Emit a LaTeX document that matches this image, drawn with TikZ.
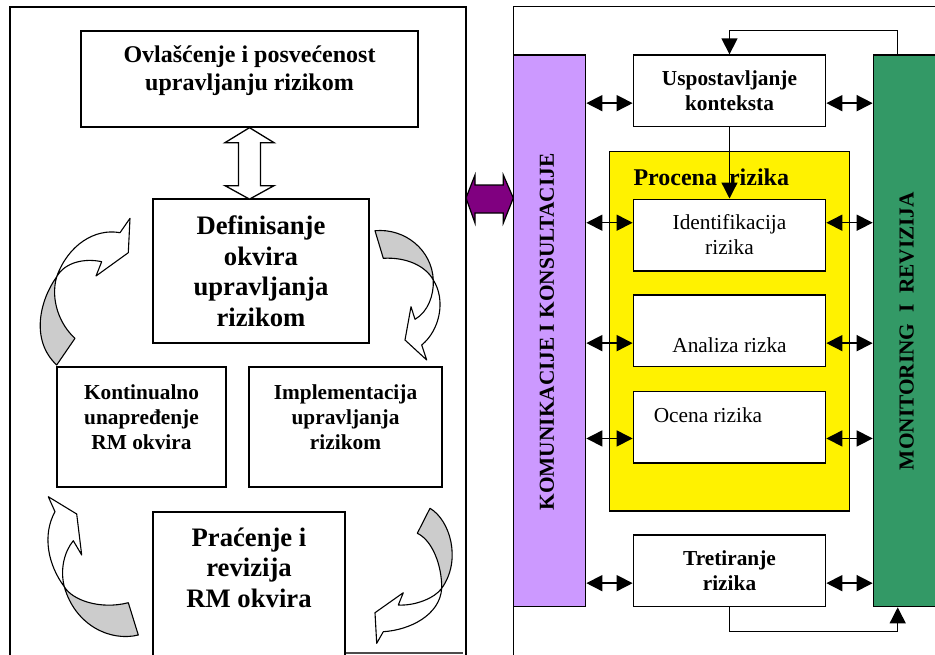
\documentclass[tikz,border=0pt]{standalone}
\usepackage{fontspec}
\setmainfont{Liberation Serif}
\usepackage{tikz}
\usetikzlibrary{arrows.meta, positioning, calc}

\definecolor{lavender}{HTML}{CC99FF}
\definecolor{seagreen}{HTML}{339966}
\definecolor{plum}{HTML}{800080}
\definecolor{ribbon}{HTML}{CCCCCC}

\newcommand{\szM}{\fontsize{21.33}{25}\selectfont}
\newcommand{\szL}{\fontsize{24}{28}\selectfont}
\newcommand{\szXL}{\fontsize{26.67}{30.5}\selectfont}

\begin{document}
\begin{tikzpicture}[x=1pt, y=-1pt,
        box/.style={draw, rectangle, line width=1.3pt, fill=white, inner sep=0pt},
        rbox/.style={box, minimum width=192.4pt, minimum height=71.7pt},
        bar/.style={draw, rectangle, line width=1.3pt, inner sep=0pt},
        frame/.style={line width=1.2pt},
        lbl/.style={align=center, font=\bfseries\szM},
        dbl/.style={line width=1.5pt, {Triangle[length=16pt, width=16pt]}-{Triangle[length=16pt, width=16pt]}},
        arr/.style={line width=1.3pt, -{Triangle[length=16pt, width=16pt]}},
        rib/.style={draw, line width=1.1pt, line join=round}]
        \useasboundingbox (0,0) rectangle (935,654);
        \clip (0,0) rectangle (935,654);
        \fill[white] (0,0) rectangle (935,654);

        % Left part: the RM framework cycle
        \draw[frame] (10,670) |- (466,7) -- (466,670);
        \node[box, minimum width=337pt, minimum height=96pt] (ovl) at (249.5,79) {};
        \node[lbl, font=\bfseries\szL] (ovl-t) at ($(ovl)+(0,-8)$) {Ovlašćenje i posvećenost\\upravljanju rizikom};
        \node[box, lbl, font=\bfseries\szXL, minimum width=216pt, minimum height=144pt] (def) at (261,271) {Definisanje\\okvira\\upravljanja\\rizikom};
        \node[box, minimum width=169pt, minimum height=120pt] (kont) at (141.5,427) {};
        \node[lbl] (kont-t) at ($(kont)+(0,-10)$) {Kontinualno\\unapređenje\\RM okvira};
        \node[box, minimum width=193pt, minimum height=120pt] (impl) at (345.5,427) {};
        \node[lbl] (impl-t) at ($(impl)+(0,-10)$) {Implementacija\\upravljanja\\rizikom};
        \node[box, minimum width=192pt, minimum height=188pt] (prac) at (249,606) {};
        \node[lbl, font=\bfseries\szXL] (prac-t) at ($(prac.north)+(0,56.5)$) {Praćenje i\\revizija\\RM okvira};
        \draw[line width=2pt, gray!60!black] (prac.north east |- 0,653) -- (463,653);

        % hollow double arrow
        \draw[box] (ovl.south) -- ++(24.5,15) -- ++(-13.5,0) -- ++(0,43) -- ++(13.5,0) -- ++(-24.5,13.5)
                -- ++(-24.5,-13.5) -- ++(13.5,0) -- ++(0,-43) -- ++(-13.5,0) -- cycle;

        % ribbon arrows
        \draw[rib, fill=ribbon] (56.7,276.7) .. controls (40,300) and (30,340) .. (56.7,365) -- (75,338.3)
                .. controls (60,325) and (50,300) .. (56.7,276.7) -- cycle;
        \draw[rib, fill=white] (56.7,276.7) .. controls (68,245) and (95,228) .. (120,232.7) -- (130,218.3)
                -- (128.3,252.7) -- (96,276) -- (101.7,261.7) .. controls (85,258) and (65,262) .. (56.7,276.7) -- cycle;
        \draw[rib, fill=ribbon] (375,230.7) .. controls (405,228) and (432,250) .. (433.3,280)
                .. controls (425,265) and (405,257) .. (383.3,258.3) -- cycle;
        \draw[rib, fill=white] (433.3,280) .. controls (446,300) and (440,330) .. (421.7,345) -- (426.7,360)
                -- (405,340) -- (411,306.7) -- (415,319.3) .. controls (428,312) and (434,295) .. (433.3,280) -- cycle;
        \draw[rib, fill=ribbon] (64.3,586.7) .. controls (72,600) and (100,610) .. (128.3,602.7) -- (138.3,635)
                .. controls (110,642) and (75,625) .. (64.3,586.7) -- cycle;
        \draw[rib, fill=white] (64.3,586.7) .. controls (48,565) and (42,535) .. (55,511.7) -- (48.3,496.7)
                -- (76.7,514) -- (81.7,555) -- (73.3,540.7) .. controls (64,552) and (60,570) .. (64.3,586.7) -- cycle;
        \draw[rib, fill=ribbon] (430,508.3) .. controls (450,520) and (462,560) .. (441.7,588.3)
                .. controls (442,565) and (432,540) .. (417.3,533.3) -- cycle;
        \draw[rib, fill=white] (441.7,588.3) .. controls (435,598) and (415,606) .. (398.3,605) -- (403.3,592.7)
                -- (375,612.7) -- (376.7,643.3) -- (383.3,631.7) .. controls (410,630) and (440,615) .. (441.7,588.3) -- cycle;

        % Right part: risk management process
        \draw[frame] (513.3,670) |- (945,6.7);
        \node[bar, fill=lavender, minimum width=72.4pt, minimum height=551.7pt] (kom) at (549.5,330.85) {};
        \node[rotate=90, font=\bfseries\szM] (kom-t) at (547,332) {KOMUNIKACIJE I KONSULTACIJE};
        \node[bar, fill=seagreen, minimum width=66.7pt, minimum height=551.7pt] (mon) at (906.7,330.85) {};
        \node[rotate=90, font=\bfseries\szM] (mon-t) at (906.7,331) {MONITORING\ \ I\ \ REVIZIJA};
        \node[bar, fill=yellow, minimum width=240pt, minimum height=359.3pt] (proc) at (729.3,331.35) {};
        \node[font=\bfseries\szL, anchor=base west] (proc-t) at (630,185) {Procena\ \ rizika};

        \node[rbox, lbl] (usp) at (729.5,90.85) {Uspostavljanje\\konteksta};
        \node[rbox, align=center, font=\szM] (ident) at (729.5,235) {Identifikacija\\rizika};
        \node[rbox] (anal) at (729.5,330.85) {};
        \node[font=\szM] (anal-t) at ($(anal)+(0,14)$) {Analiza rizka};
        \node[rbox] (ocena) at (729.5,427.15) {};
        \node[font=\szM] (ocena-t) at ($(ocena)+(-21.5,-12)$) {Ocena rizika};
        \node[rbox, lbl] (tret) at (729.5,570.85) {Tretiranje\\rizika};

        \coordinate (link) at (466,198);
        \draw[fill=plum, line width=1.2pt] (link) -- ++(9,-23) -- ++(0,10) -- ++(28.3,0) -- ++(0,-10) -- ++(10,23)
                -- ++(-10,25) -- ++(0,-10) -- ++(-28.3,0) -- ++(0,10) -- cycle;

        \foreach \b/\dy in {usp/12.3, ident/-12.3, anal/12.3, ocena/11.3, tret/12.3} {
            \draw[dbl] ($(\b.west -| kom.east)+(0,\dy)$) -- ($(\b.west)+(0,\dy)$);
            \draw[dbl] ($(\b.east)+(0,\dy)$) -- ($(\b.east -| mon.west)+(0,\dy)$);
        }
        \draw[arr] ($(mon.north)+(-9,0)$) -- ++(0,-24) -| (usp.north);
        \draw[arr] (usp.south) -- (ident.north);
        \draw[arr] (tret.south) -- ++(0,24.3) -| ($(mon.south)+(-9,0)$);
\end{tikzpicture}
\end{document}
